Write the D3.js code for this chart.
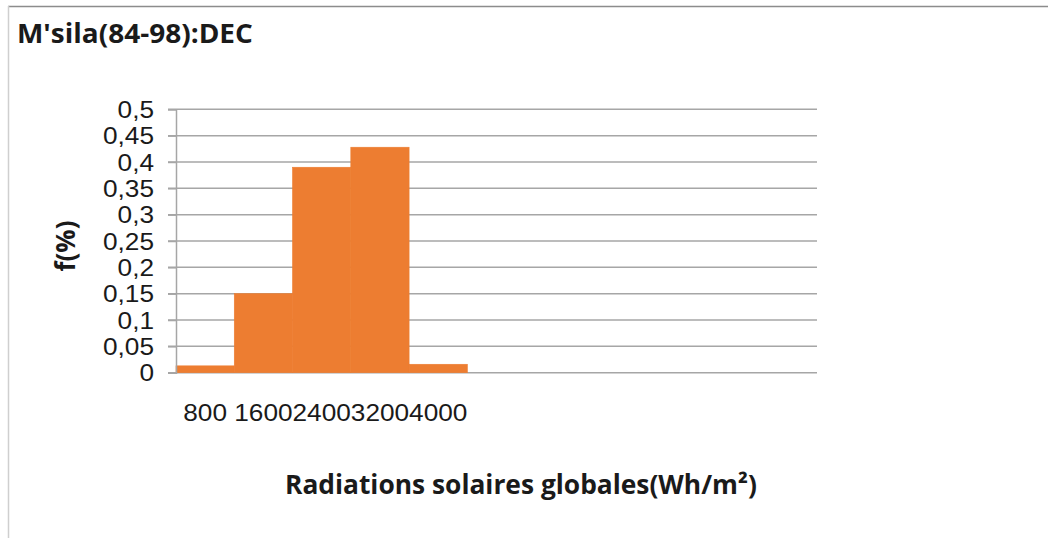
<!DOCTYPE html>
<html>
<head>
<meta charset="utf-8">
<script src="https://cdn.jsdelivr.net/npm/d3@7"></script>
<style>
  html, body { margin: 0; padding: 0; background: #ffffff; }
  svg { display: block; }
</style>
</head>
<body>
<svg id="chart" width="1048" height="538"></svg>
<script>
// Frequency of December daily global solar radiation, M'sila 1984-1998
const binIndex   = [0, 1, 2, 3, 4, 5, 6, 7, 8, 9, 10];
const binLabels  = ["800", "1600", "2400", "3200", "4000", "", "", "", "", "", ""];
const frequency  = [0.013, 0.15, 0.39, 0.428, 0.016, 0, 0, 0, 0, 0, 0];
const yTicks     = [0, 0.05, 0.1, 0.15, 0.2, 0.25, 0.3, 0.35, 0.4, 0.45, 0.5];

const chartTitle = "M'sila(84-98):DEC";
const xTitle     = "Radiations solaires globales(Wh/m²)";
const yTitle     = "f(%)";

const W = 1048, H = 538;
const plot = { left: 176, right: 817, top: 109.3, bottom: 372.7 };
const barColor = "#ED7D31";
const gridColor = "#a6a6a6";
const stretch = 1.14;

const svg = d3.select("#chart");

// outer frame (top and left edges)
svg.append("line").attr("x1", 8).attr("x2", W).attr("y1", 6.5).attr("y2", 6.5)
  .attr("stroke", "#8c8c8c").attr("stroke-width", 1.5);
svg.append("line").attr("x1", 8.5).attr("x2", 8.5).attr("y1", 6).attr("y2", H)
  .attr("stroke", "#cfcfcf").attr("stroke-width", 1.5);

const x = d3.scaleBand().domain(binIndex).range([plot.left, plot.right]).padding(0);
const y = d3.scaleLinear().domain([0, 0.5]).range([plot.bottom, plot.top]);

// horizontal stretch of a text element about its own x position
function widen(sel, k) {
  sel.each(function () {
    const t = d3.select(this);
    const tx = +t.attr("x") || 0;
    t.attr("transform", `translate(${tx},0) scale(${k},1) translate(${-tx},0)`);
  });
}

// gridlines
svg.append("g")
  .selectAll("line")
  .data(yTicks)
  .join("line")
  .attr("x1", plot.left - 8)
  .attr("x2", plot.right)
  .attr("y1", d => y(d))
  .attr("y2", d => y(d))
  .attr("stroke", gridColor)
  .attr("stroke-width", 1.5);

// bars (thin same-colour outline closes the seams between adjacent bins)
svg.append("g")
  .selectAll("rect")
  .data(binIndex.filter(d => frequency[d] > 0))
  .join("rect")
  .attr("x", d => x(d))
  .attr("width", x.bandwidth())
  .attr("y", d => y(frequency[d]))
  .attr("height", d => y(0) - y(frequency[d]))
  .attr("fill", barColor)
  .attr("stroke", barColor)
  .attr("stroke-width", 0.6);

// y axis
const yAxis = svg.append("g")
  .attr("transform", `translate(${plot.left},0)`)
  .call(d3.axisLeft(y)
    .tickValues(yTicks)
    .tickSize(8)
    .tickPadding(14)
    .tickFormat(d => String(+d.toFixed(2)).replace(".", ",")));
yAxis.select(".domain").attr("stroke", gridColor).attr("stroke-width", 1.5);
yAxis.selectAll(".tick line").attr("stroke", gridColor).attr("stroke-width", 1.5);
yAxis.selectAll(".tick text")
  .attr("font-family", "'Liberation Sans', Arial, sans-serif")
  .attr("font-size", 23)
  .attr("fill", "#1a1a1a")
  .attr("dy", "0.36em")
  .call(widen, stretch);

// x axis
const xAxis = svg.append("g")
  .attr("transform", `translate(0,${plot.bottom})`)
  .call(d3.axisBottom(x)
    .tickSize(0)
    .tickPadding(32)
    .tickFormat(d => binLabels[d]));
xAxis.select(".domain").remove();
xAxis.selectAll(".tick text")
  .attr("font-family", "'Liberation Sans', Arial, sans-serif")
  .attr("font-size", 23)
  .attr("fill", "#1a1a1a")
  .call(widen, stretch);

// titles
function fitWidth(sel, target) {
  sel.each(function () {
    const t = d3.select(this);
    const w = this.getComputedTextLength();
    const tx = +t.attr("x") || 0;
    const k = target / w;
    t.attr("transform", `translate(${tx},0) scale(${k},1) translate(${-tx},0)`);
  });
}

svg.append("text")
  .attr("x", 17).attr("y", 43)
  .attr("font-family", "'Open Sans', sans-serif")
  .attr("font-weight", 700)
  .attr("font-size", 26)
  .attr("fill", "#1a1a1a")
  .text(chartTitle)
  .call(fitWidth, 236);

svg.append("text")
  .attr("x", 285).attr("y", 494)
  .attr("font-family", "'Open Sans', sans-serif")
  .attr("font-weight", 700)
  .attr("font-size", 26)
  .attr("fill", "#1a1a1a")
  .text(xTitle)
  .call(fitWidth, 472);

svg.append("text")
  .attr("transform", "translate(75,246) rotate(-90)")
  .attr("text-anchor", "middle")
  .attr("font-family", "'Open Sans', sans-serif")
  .attr("font-weight", 700)
  .attr("font-size", 26)
  .attr("fill", "#1a1a1a")
  .text(yTitle);
</script>
</body>
</html>
